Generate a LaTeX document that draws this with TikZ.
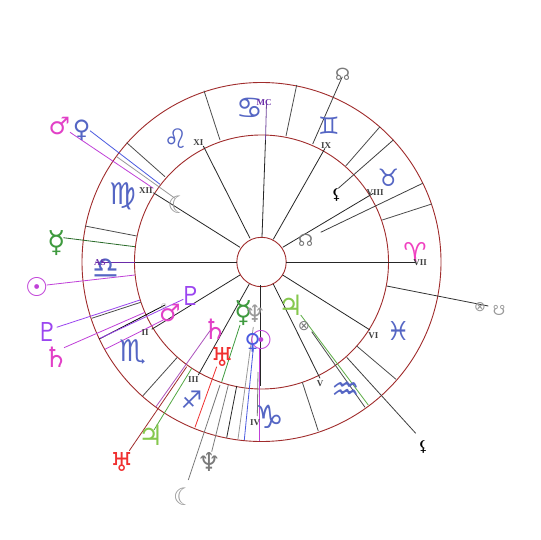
\documentclass[tikz,border=0pt]{standalone}
\usepackage{fontspec}
\setmainfont{Liberation Serif}
\newfontfamily\astro{DejaVu Sans}
\definecolor{ringc}{HTML}{A02C2C}
\definecolor{signc}{HTML}{5566C4}
\definecolor{pinkc}{HTML}{F040C0}
\definecolor{magc}{HTML}{C040D8}
\definecolor{violc}{HTML}{9B45F0}
\definecolor{purpc}{HTML}{6A2CA8}
\definecolor{greenc}{HTML}{3E9A3E}
\definecolor{lgreenc}{HTML}{86C84E}
\definecolor{redc}{HTML}{F03030}
\definecolor{grayc}{HTML}{999999}
\definecolor{bluec}{HTML}{4A5AE0}
\tikzset{
  ring/.style={draw=ringc,line width=0.9pt},
  lin/.style={line width=0.8pt},
  house/.style={lin,draw=black!85},
  cusp/.style={lin,draw=black!70},
  glyph/.style={font=\astro\fontsize{#1}{#1}\selectfont,inner sep=0pt},
  glyph/.default=24,
  rom/.style={font=\bfseries\fontsize{9}{9}\selectfont,inner sep=0pt,text=black!75},
}
\begin{document}
\begin{tikzpicture}[x=1pt,y=-1pt]
\useasboundingbox (0,0) rectangle (540,540);
\fill[white] (0,0) rectangle (540,540);
% rings
\coordinate (c) at (261.5,262);
\draw[ring] (c) circle[radius=179.5];
\draw[ring] (c) circle[radius=127];
\draw[ring] (c) circle[radius=24.7];
% house lines
\draw[house] (240,247.3)--(153.3,192.7);
\draw[house] (250,238.3)--(203.3,146);
\draw[house] (262,237)--(265.5,140);
\draw[house] (237,262)--(135,262);
\draw[house] (286,262)--(416,262);
\draw[house] (273.3,239.3)--(325,148.3);
\draw[house] (282.7,247.3)--(373.3,193.3);
\draw[house] (240,275)--(151.7,329.3);
\draw[house] (249.3,284)--(198.3,375);
\draw[house] (260,285)--(260,386);
\draw[house] (273.3,284)--(320,378.3);
\draw[house] (282.7,275)--(370,330);
% sign cusps
\draw[cusp] (204,90.7)--(220,140);
\draw[cusp] (126.7,142.7)--(165,176.7);
\draw[cusp] (85,226)--(136.7,236);
\draw[cusp] (296.7,85)--(286,136);
\draw[cusp] (380,126.7)--(345.7,166);
\draw[cusp] (431.7,204)--(382.3,220);
\draw[cusp] (91.7,318.3)--(140.7,302.3);
\draw[cusp] (177.3,357.3)--(142.7,396);
\draw[house] (226.7,437.7)--(236.7,386);
\draw[cusp] (302.3,382.3)--(318.3,431);
\draw[cusp] (356.7,346)--(396,379.3);
% planet lines
\draw[lin,draw=purpc!70!gray] (265.5,140)--(266.5,103);
\draw[lin,draw=purpc] (135,262)--(96,262);
\draw[lin,draw=pinkc] (416,262)--(415,250);
\draw[lin,draw=black!75] (342.3,76.7)--(312.7,144);
\draw[lin,draw=black!75] (393.3,140)--(338.3,188.3);
\draw[lin,draw=black!75] (422.7,183.3)--(320.7,232.3);
\draw[lin,draw=grayc] (175,198.3)--(116.7,156.7);
\draw[lin,draw=bluec] (90,130.7)--(160,184.3);
\draw[lin,draw=magc] (70,132.3)--(153.3,188.3);
\draw[lin,draw=greenc!70!black] (63.3,237.7)--(135,246.7);
\draw[lin,draw=magc] (46.7,285)--(135,275);
\draw[lin,draw=violc] (56.7,327.3)--(140,300);
\draw[lin,draw=magc] (64,347.7)--(145,312.3);
\draw[lin,draw=black] (99.3,339)--(165,305);
\draw[lin,draw=violc] (100,338.3)--(183.3,299.3);
\draw[lin,draw=magc] (105,349.3)--(163.3,320);
\draw[lin,draw=magc!70!gray] (210,330.7)--(156,406.7);
\draw[lin,draw=redc] (216.7,366.7)--(195,427.3);
\draw[lin,draw=ringc] (129.3,450.7)--(186.7,366.7);
\draw[lin,draw=greenc!70!lgreenc] (154,430)--(191.7,368.3);
\draw[lin,draw=greenc] (240,325)--(221.7,381.7);
\draw[lin,draw=grayc!80!black] (188.3,480)--(220,385);
\draw[lin,draw=grayc!80!black] (211.7,451.7)--(228.3,385);
\draw[lin,draw=grayc] (238,439)--(253.3,327);
\draw[lin,draw=bluec] (244.3,440)--(253.3,348.3);
\draw[lin,draw=magc] (259,440.7)--(259,348);
\draw[lin,draw=grayc!80!black] (258,372)--(257.3,416);
\draw[lin,draw=black!80] (386.7,286)--(488.3,306);
\draw[lin,draw=greenc!60!lgreenc] (300.7,315)--(368.3,405);
\draw[lin,draw=black!70] (311.7,331.7)--(365,407.3);
\draw[lin,draw=black!75] (346.7,357.3)--(415.7,433.3);
% signs
\node[glyph=26,text=pinkc]  (aries) at (415,251.7) {♈};
\node[glyph=24,text=signc]  (taurus) at (388.3,177.3) {♉};
\node[glyph=24,text=signc]  (gemini) at (329,126) {♊};
\node[glyph=30,text=signc]  (cancer) at (250,108.3) {♋};
\node[glyph=27,text=signc]  (leo) at (175.7,139) {♌};
\node[glyph=30,text=signc]  (virgo) at (122.7,196.7) {♍};
\node[glyph=30,text=signc]  (libra) at (106,269) {♎};
\node[glyph=30,text=signc]  (scorpio) at (133.3,351.7) {♏};
\node[glyph=24,text=signc]  (sagit) at (191.7,400) {♐};
\node[glyph=32,text=signc]  (capri) at (270,416.7) {♑};
\node[glyph=32,text=signc]  (aqua) at (346,391.7) {♒};
\node[glyph=26,text=signc]  (pisces) at (398.3,331) {♓};
% house labels
\node[rom,text=purpc] (l1) at (100,263) {AS};
\node[rom] (l2) at (145,332.7) {II};
\node[rom] (l3) at (193.3,379.3) {III};
\node[rom] (l4) at (255,422.7) {IV};
\node[rom] (l5) at (320,383.3) {V};
\node[rom] (l6) at (373.3,335.7) {VI};
\node[rom] (l7) at (420,263) {VII};
\node[rom] (l8) at (375,192.7) {VIII};
\node[rom] (l9) at (326,146) {IX};
\node[rom,text=purpc] (l10) at (264,102.7) {MC};
\node[rom] (l11) at (198.3,142.7) {XI};
\node[rom] (l12) at (146,191) {XII};
% planets, outer
\node[glyph=26,text=magc]   (sun1) at (36.7,287.3) {☉};
\node[glyph,text=pinkc!70!magc] (mars1) at (59.3,126) {♂};
\node[glyph,text=signc]  (ven1) at (81.7,130.7) {♀};
\node[glyph=30,text=greenc] (mer1) at (56.7,242.7) {☿};
\node[glyph=26,text=violc]  (plu1) at (47.3,331.7) {♇};
\node[glyph=28,text=pinkc!70!magc] (sat1) at (56,357) {♄};
\node[glyph=26,text=redc]   (ura1) at (121.7,461.7) {♅};
\node[glyph=28,text=lgreenc] (jup1) at (150.7,435.7) {♃};
\node[glyph,text=grayc]  (moon1) at (184,496.7) {☾};
\node[glyph=26,text=grayc!80!black] (nep1) at (209,461.7) {♆};
\node[glyph=15,text=black] (lil1) at (423.3,446.7) {⚸};
\node[glyph=14,text=grayc] (fort1) at (480,306.7) {⊗};
\node[glyph=14,text=grayc] (node1) at (499,310) {☋};
\node[glyph=17,text=grayc!80!black] (node2) at (342.7,74) {☊};
% planets, inner
\node[glyph,text=grayc]  (moon2) at (178.3,205) {☾};
\node[glyph=15,text=black] (lil2) at (336.7,195) {⚸};
\node[glyph=17,text=grayc!80!black] (node3) at (305.7,240) {☊};
\node[glyph=26,text=violc]  (plu2) at (190.7,296) {♇};
\node[glyph,text=pinkc!70!magc] (mars2) at (170,313.3) {♂};
\node[glyph=6,text=grayc] (vx) at (164,306) {○};
\node[glyph=28,text=pinkc!70!magc] (sat2) at (215,329.3) {♄};
\node[glyph=26,text=redc]   (ura2) at (222.3,357.3) {♅};
\node[glyph=30,text=greenc] (mer2) at (244,313.3) {☿};
\node[glyph=24,text=grayc] (nep2) at (255,313.3) {♆};
\node[glyph=26,text=magc]   (sun2) at (261,340) {☉};
\node[glyph=22,text=bluec]  (ven2) at (252.7,343) {♀};
\node[glyph=28,text=lgreenc] (jup2) at (290.7,305) {♃};
\node[glyph=14,text=grayc!80!black] (fort2) at (304,325.7) {⊗};
\end{tikzpicture}
\end{document}
